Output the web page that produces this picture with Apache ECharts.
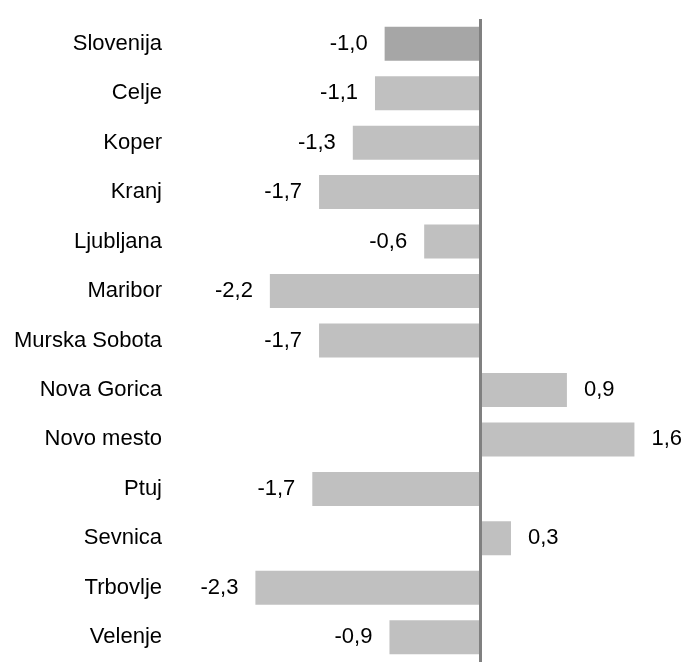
<!DOCTYPE html>
<html>
<head>
<meta charset="utf-8">
<script src="https://cdn.jsdelivr.net/npm/echarts@6/dist/echarts.min.js"></script>
<style>
html,body{margin:0;padding:0;background:#fff;}
#chart{width:684px;height:662px;}
</style>
</head>
<body>
<div id="chart"></div>
<script>
var categories = ['Slovenija','Celje','Koper','Kranj','Ljubljana','Maribor','Murska Sobota','Nova Gorica','Novo mesto','Ptuj','Sevnica','Trbovlje','Velenje'];
var values = [-0.99, -1.09, -1.32, -1.67, -0.58, -2.18, -1.67, 0.90, 1.60, -1.74, 0.32, -2.33, -0.94];

var chart = echarts.init(document.getElementById('chart'), null, {renderer:'canvas'});
var font = '"Liberation Sans", Arial, sans-serif';
var data = values.map(function(v, i){
  return {
    value: v,
    itemStyle: {color: i === 0 ? '#a6a6a6' : '#c0c0c0'},
    label: {position: v < 0 ? 'left' : 'right'}
  };
});
chart.setOption({
  animation: false,
  backgroundColor: '#ffffff',
  grid: {left: 239, top: 19, width: 434, height: 650, containLabel: false},
  xAxis: {
    type: 'value', min: -2.5, max: 2.0, show: false,
    splitLine: {show: false}
  },
  yAxis: {
    type: 'category', data: categories, inverse: true,
    axisLine: {show: false}, axisTick: {show: false},
    axisLabel: {margin: 77, fontSize: 22, color: '#000', fontFamily: font, align: 'right'}
  },
  series: [{
    type: 'bar',
    data: data,
    barWidth: 34,
    label: {
      show: true, distance: 17, fontSize: 22, color: '#000', fontFamily: font,
      formatter: function(p){ return p.value.toFixed(1).replace('.', ','); }
    },
    markLine: {
      silent: true, symbol: 'none', animation: false,
      label: {show: false},
      lineStyle: {color: '#808080', width: 3, type: 'solid'},
      data: [{xAxis: 0}]
    }
  }]
});
</script>
</body>
</html>
